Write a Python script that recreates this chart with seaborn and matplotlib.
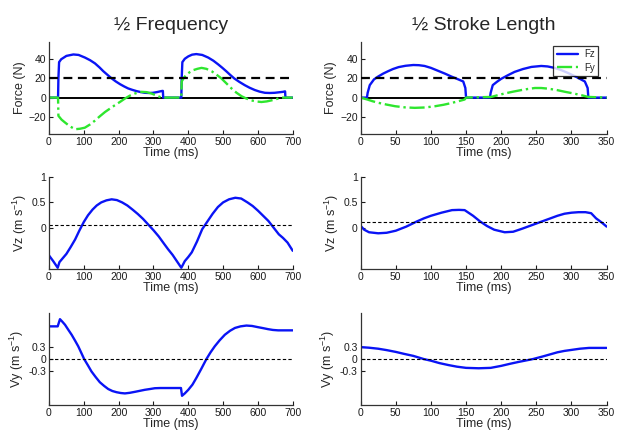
import numpy as np
import seaborn as sns
import matplotlib
matplotlib.use('Agg')
import matplotlib.pyplot as plt

# --- Daten ---
# 1/2 Frequency, Kraft
t_fz_freq = [0, 26, 27, 29, 35, 50, 70, 85, 103, 118, 132, 145, 156, 168, 180, 192, 204, 216, 227,
             239, 251, 263, 275, 287, 299, 311, 323, 327, 328,
             380, 381, 383, 390, 400, 411, 423, 440, 457, 472, 486, 498, 509, 520, 532, 547, 562,
             576, 591, 605, 620, 634, 648, 660, 672, 678, 679, 700]
fz_freq = [0, 0, 20, 37, 40, 43.5, 45, 44.5, 41.8, 39, 35.7, 31.5, 27.5, 23.7, 20, 16.8, 14, 11.6, 9.6,
           8.1, 6.8, 5.8, 5, 4.8, 5, 5.8, 6.8, 7, 0,
           0, 20, 37, 40.5, 43, 44.8, 45.4, 44.5, 41.8, 38.5, 34.6, 31, 27.5, 23.8, 20, 16.3, 13,
           10.3, 7.9, 6.2, 5, 4.8, 5, 5.5, 6, 6.5, 0, 0]
t_fy_freq = [0, 26, 27, 36, 46, 60, 75, 89, 103, 118, 132, 146, 161, 175, 189, 204, 218, 232, 247,
             266, 280, 294, 308, 323,
             380, 381, 388, 395, 404, 414, 426, 438, 452, 467, 481, 495, 509, 524, 538, 553, 567,
             581, 595, 610, 625, 639, 653, 667, 700]
fy_freq = [0, 0, -19, -23, -26, -30, -33, -32.5, -31.4, -28, -24, -19.5, -15, -11.5, -8, -4.5, -1, 2, 4.3,
           6, 5.7, 4.3, 2.3, 0,
           0, 16.8, 21, 24, 26.5, 28.6, 30, 31, 30, 27.5, 24, 20, 15, 9.6, 5.2, 1.4, -1,
           -2.9, -4, -4.6, -4, -2.9, -1.5, 0, 0]

# 1/2 Stroke Length, Kraft
t_fz_stroke = [0, 9, 10, 13, 19, 25, 32, 39, 46, 54, 64, 75, 83, 91, 100, 110, 120, 129, 138,
               146, 149, 150,
               184, 185, 188, 194, 200, 210, 219, 231, 243, 257, 266, 276, 286, 295, 307, 319, 323, 324, 350]
fz_stroke = [0, 0, 5, 13, 19, 22, 25, 27.5, 29.8, 31.8, 33.2, 34, 33.8, 33, 31, 28, 25, 22, 19.3,
             16.8, 10, 0,
             0, 5, 13, 16.5, 19.6, 23.5, 26.8, 29.8, 32, 33, 32.5, 31, 28.5, 25.7, 21.5, 16.8, 10, 0, 0]
t_fy_stroke = [0, 9.5, 17, 25, 37, 49, 63, 77, 92, 106, 118, 129, 139, 148, 150,
               186, 195, 205, 217, 229, 238, 248, 257, 267, 279, 291, 303, 314, 324, 350]
fy_stroke = [0, -2, -3.8, -5.4, -7.3, -9, -10.2, -10.7, -10.3, -9, -7.5, -5.7, -3.8, -2, 0,
             0.7, 2.5, 4.3, 6.2, 7.9, 9, 10, 10, 9.3, 7.9, 6, 4.3, 2.5, 0.7, 0]

# Vz
t_vz_freq = [0, 12, 25, 30, 40, 50, 62, 75, 87, 100, 112, 125, 137, 150, 165, 180, 195, 210, 225,
             240, 255, 270, 285, 300, 315, 330, 342, 355, 367,
             380, 390, 400, 410, 425, 440, 455, 470, 485, 500, 517, 535, 552, 570, 585, 600,
             615, 630, 645, 660, 672, 685, 700]
vz_freq = [-0.53, -0.64, -0.77, -0.66, -0.58, -0.50, -0.37, -0.22, -0.05, 0.12, 0.25, 0.36, 0.44, 0.50,
           0.54, 0.56, 0.545, 0.50, 0.44, 0.36, 0.275, 0.18, 0.07, -0.04, -0.16, -0.30, -0.41, -0.52,
           -0.64,
           -0.77, -0.64, -0.56, -0.47, -0.26, -0.02, 0.13, 0.28, 0.41, 0.50, 0.56, 0.59, 0.575, 0.50,
           0.43, 0.34, 0.24, 0.14, 0.01, -0.12, -0.19, -0.28, -0.44]
t_vz_stroke = [0, 5, 12, 25, 37, 50, 65, 80, 90, 100, 115, 130, 140, 148, 160, 170, 180, 190, 205,
               217, 230, 244, 258, 270, 280, 290, 300, 310, 320, 328, 335, 343, 350]
vz_stroke = [0.045, -0.03, -0.08, -0.10, -0.09, -0.05, 0.03, 0.13, 0.19, 0.24, 0.30, 0.35, 0.355,
             0.35, 0.24, 0.13, 0.04, -0.03, -0.08, -0.07, -0.01, 0.06, 0.13, 0.19, 0.24, 0.28, 0.30,
             0.31, 0.31, 0.29, 0.19, 0.11, 0.03]
vz_ref_freq = 0.058
vz_ref_stroke = 0.128

# Vy
t_vy_freq = [0, 25, 31.5, 38, 46, 55, 65, 75, 84, 92, 101, 112, 122, 134, 146, 158, 170, 182, 194,
             206, 218, 232, 247, 261, 275, 290, 304, 320, 342, 379, 382,
             390, 400, 412, 423, 437, 452, 464, 476, 490, 505, 520, 534, 550, 567, 583, 600,
             615, 629, 643, 658, 700]
vy_freq = [0.82, 0.82, 1.0, 0.94, 0.86, 0.74, 0.61, 0.46, 0.32, 0.17, 0.0, -0.16, -0.31, -0.45, -0.58,
           -0.67, -0.75, -0.80, -0.83, -0.85, -0.86, -0.845, -0.82, -0.795, -0.77, -0.75, -0.73,
           -0.725, -0.725, -0.725, -0.92,
           -0.86, -0.77, -0.64, -0.475, -0.25, 0.0, 0.17, 0.32, 0.47, 0.61, 0.71, 0.78, 0.82, 0.84,
           0.83, 0.80, 0.775, 0.75, 0.73, 0.72, 0.72]
t_vy_stroke = [0, 12, 25, 37, 50, 62, 75, 90, 100, 112, 125, 137, 150, 168, 185, 200, 212, 225,
               245, 260, 270, 280, 290, 300, 312, 325, 350]
vy_stroke = [0.30, 0.285, 0.26, 0.225, 0.18, 0.13, 0.08, 0.0, -0.04, -0.10, -0.15, -0.19, -0.22,
             -0.23, -0.22, -0.17, -0.12, -0.07, 0.0, 0.07, 0.12, 0.17, 0.205, 0.23, 0.26, 0.28, 0.28]

blue = '#0a14f5'
green = '#2ee62e'

sns.set_style('ticks')
plt.rcParams['font.family'] = ['Liberation Sans', 'DejaVu Sans']
plt.rcParams['mathtext.fontset'] = 'custom'
plt.rcParams['mathtext.rm'] = 'Liberation Sans'
plt.rcParams['mathtext.it'] = 'Liberation Sans:italic'

fig = plt.figure(figsize=(6.25, 4.33), dpi=100)
col_x = [0.0784, 0.577]
col_w = [0.390, 0.3936]
row_y = [0.6905, 0.378, 0.0647]
row_h = [0.2125, 0.214, 0.212]

axes = [[fig.add_axes([col_x[c], row_y[r], col_w[c], row_h[r]]) for c in range(2)] for r in range(3)]


def style_ax(ax, xmax, xstep):
    ax.set_xlim(0, xmax)
    ax.set_xticks(np.arange(0, xmax + 1, xstep))
    ax.tick_params(direction='in', length=3, width=0.8, labelsize=7.5, colors='#1a1a1a', pad=2)
    for s in ['left', 'bottom']:
        ax.spines[s].set_color('#333333')
        ax.spines[s].set_linewidth(0.9)
    sns.despine(ax=ax)
    ax.set_xlabel('Time (ms)', fontsize=9, labelpad=0)


# Kraft
for c, (tz, fz, ty, fy, xmax, xstep) in enumerate([
        (t_fz_freq, fz_freq, t_fy_freq, fy_freq, 700, 100),
        (t_fz_stroke, fz_stroke, t_fy_stroke, fy_stroke, 350, 50)]):
    ax = axes[0][c]
    sns.lineplot(x=tz, y=fz, ax=ax, color=blue, lw=1.7, estimator=None, sort=False, label='Fz')
    sns.lineplot(x=ty, y=fy, ax=ax, color=green, lw=1.7, linestyle='-.', estimator=None,
                 sort=False, label='Fy')
    ax.axhline(20, color='black', lw=1.6, ls=(0, (4, 2.5)), zorder=3)
    ax.axhline(0, color='black', lw=1.4, zorder=1.5)
    ax.set_ylim(-38, 58)
    ax.set_yticks([-20, 0, 20, 40])
    ax.set_ylabel('Force (N)', fontsize=9, labelpad=2)
    style_ax(ax, xmax, xstep)
    if c == 0:
        ax.get_legend().remove()
    else:
        leg = ax.legend(loc='upper right', fontsize=7, frameon=True, fancybox=False,
                        edgecolor='black', handlelength=2.2, borderpad=0.35, labelspacing=0.35,
                        handletextpad=0.6, bbox_to_anchor=(0.985, 1.01))
        leg.get_frame().set_linewidth(0.9)

axes[0][0].set_title('\u00bd Frequency', fontsize=14, pad=9)
axes[0][1].set_title('\u00bd Stroke Length', fontsize=14, pad=9)

# Vz
for c, (t, v, ref, xmax, xstep) in enumerate([
        (t_vz_freq, vz_freq, vz_ref_freq, 700, 100),
        (t_vz_stroke, vz_stroke, vz_ref_stroke, 350, 50)]):
    ax = axes[1][c]
    sns.lineplot(x=t, y=v, ax=ax, color=blue, lw=1.7, estimator=None, sort=False)
    ax.axhline(ref, color='black', lw=0.8, ls=(0, (3, 2)))
    ax.set_ylim(-0.8, 1)
    ax.set_yticks([0, 0.5, 1])
    ax.set_yticklabels(['0', '0.5', '1'])
    ax.set_ylabel('Vz (m s$^{-1}$)', fontsize=9, labelpad=2)
    style_ax(ax, xmax, xstep)

# Vy
for c, (t, v, xmax, xstep) in enumerate([
        (t_vy_freq, vy_freq, 700, 100),
        (t_vy_stroke, vy_stroke, 350, 50)]):
    ax = axes[2][c]
    sns.lineplot(x=t, y=v, ax=ax, color=blue, lw=1.7, estimator=None, sort=False)
    ax.axhline(0, color='black', lw=0.8, ls=(0, (3, 2)))
    ax.set_ylim(-1.15, 1.15)
    ax.set_yticks([-0.3, 0, 0.3])
    ax.set_yticklabels(['-0.3', '0', '0.3'])
    ax.set_ylabel('Vy (m s$^{-1}$)', fontsize=9, labelpad=2)
    style_ax(ax, xmax, xstep)

fig.savefig('out.png', dpi=100, facecolor='white')
